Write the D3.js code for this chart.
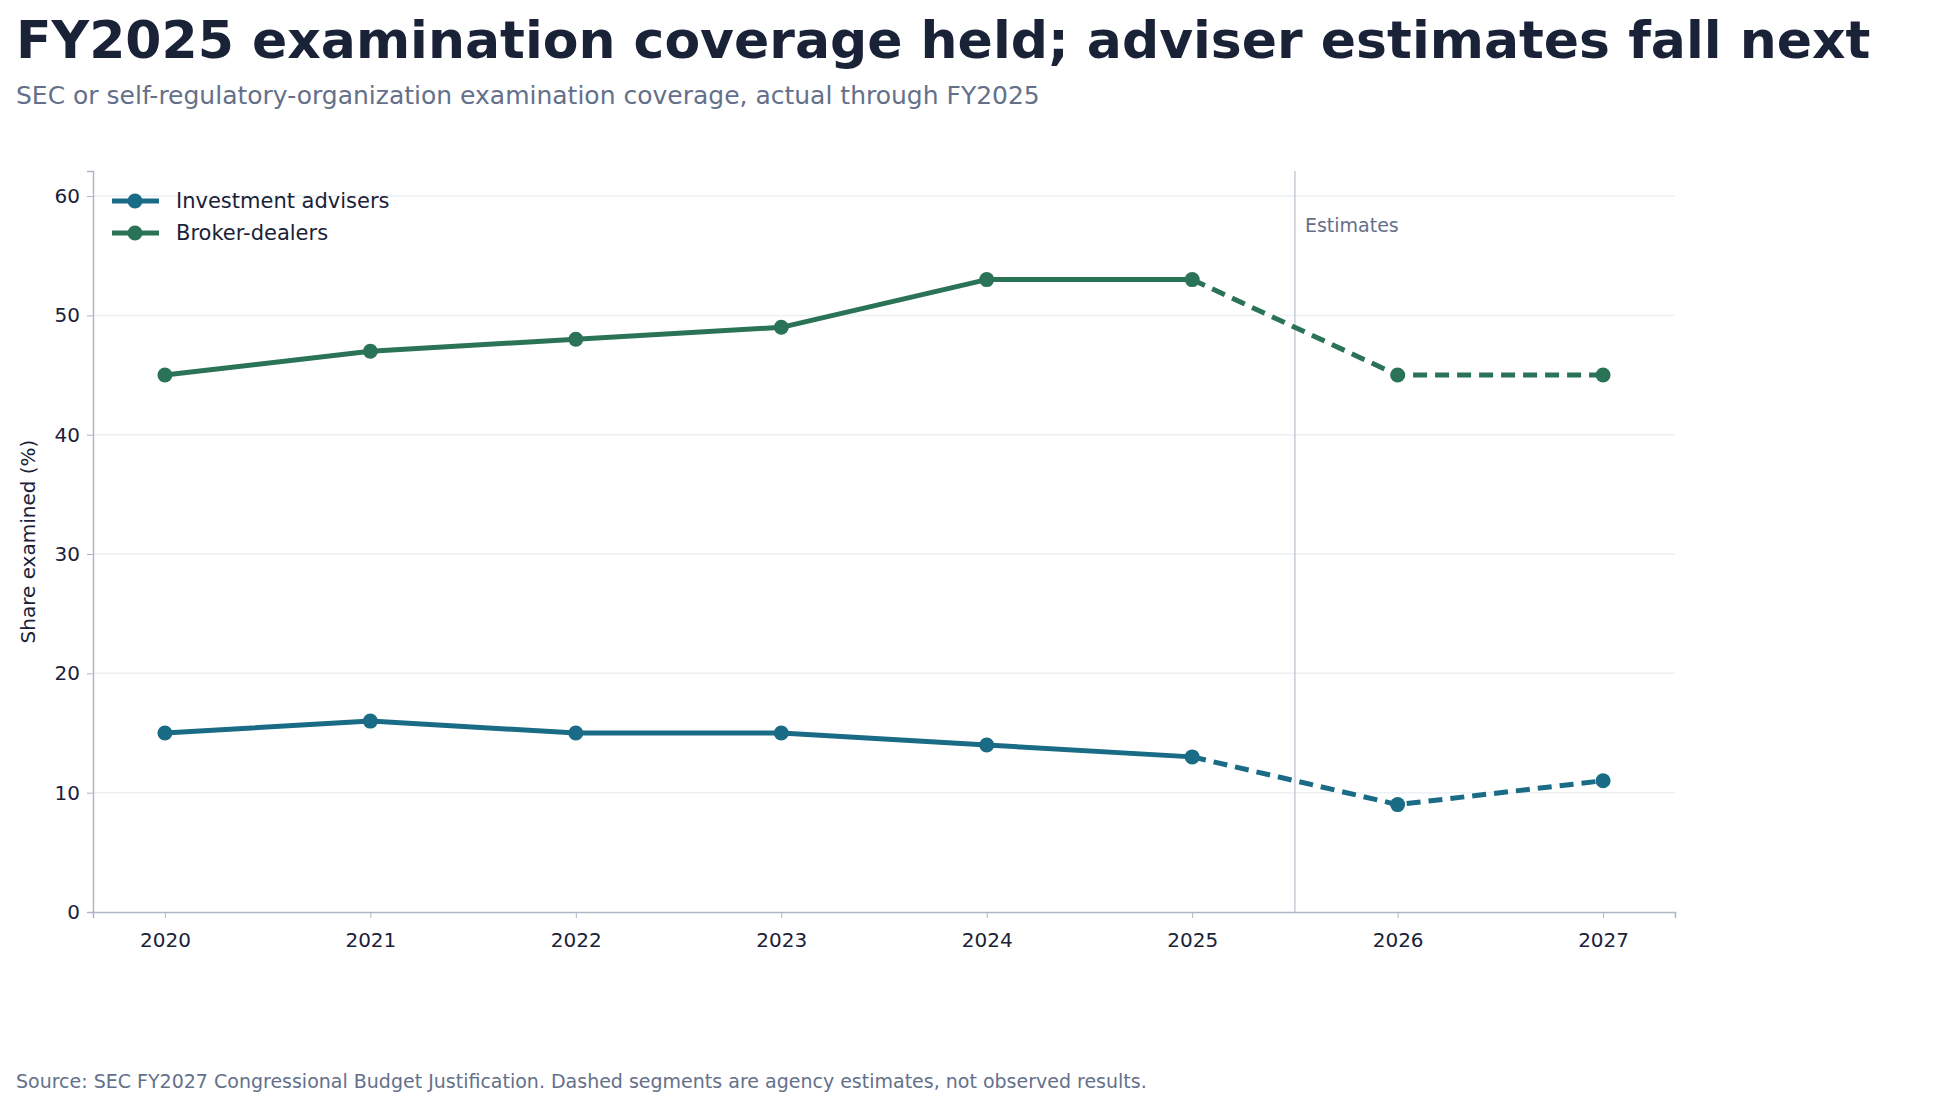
<!doctype html>
<html lang="en">
<head>
<meta charset="utf-8">
<title>SEC examination coverage</title>
<style>
  body { margin: 0; background: #fff; font-family: "DejaVu Sans", sans-serif; }
</style>
</head>
<body>
<svg id="chart" width="1936" height="1103"></svg>
<script src="https://cdn.jsdelivr.net/npm/d3@7"></script>
<script>
var years = [2020, 2021, 2022, 2023, 2024, 2025, 2026, 2027];
var advisers = [15, 16, 15, 15, 14, 13, 9, 11];
var brokers = [45, 47, 48, 49, 53, 53, 45, 45];
var yTicks = [0, 10, 20, 30, 40, 50, 60];
var lastActual = 2025;

var svg = d3.select("#chart");
var m = { left: 93, right: 1675, top: 171, bottom: 912 };

var x = d3.scaleLinear().domain([2019.65, 2027.35]).range([m.left, m.right]);
var y = d3.scaleLinear().domain([0, 62.1]).range([m.bottom, m.top]);

svg.append("text").attr("x", 16).attr("y", 58)
  .attr("font-size", 52).attr("font-weight", "bold").attr("fill", "#1a2238")
  .text("FY2025 examination coverage held; adviser estimates fall next");
svg.append("text").attr("x", 16).attr("y", 104)
  .attr("font-size", 25).attr("fill", "#64708a")
  .text("SEC or self-regulatory-organization examination coverage, actual through FY2025");

// grid
svg.append("g").selectAll("line").data(yTicks.slice(1)).join("line")
  .attr("x1", m.left).attr("x2", m.right)
  .attr("y1", function(d) { return y(d); }).attr("y2", function(d) { return y(d); })
  .attr("stroke", "#edf0f4").attr("stroke-width", 1.5);

// axes
var yAxis = svg.append("g").attr("transform", "translate(" + m.left + ",0)")
  .call(d3.axisLeft(y).tickValues(yTicks).tickSize(6));
var xAxis = svg.append("g").attr("transform", "translate(0," + m.bottom + ")")
  .call(d3.axisBottom(x).tickValues(years).tickFormat(d3.format("d")).tickSize(6));
[yAxis, xAxis].forEach(function(a) {
  a.select(".domain").attr("stroke", "#aeb6c6").attr("stroke-width", 1.5);
  a.selectAll(".tick line").attr("stroke", "#aeb6c6");
  a.selectAll("text").attr("font-size", 20).attr("fill", "#1a2238")
    .attr("font-family", "DejaVu Sans, sans-serif");
});
xAxis.selectAll("text").attr("dy", "1.3em");
yAxis.selectAll("text").attr("dx", "-0.2em");

svg.append("text")
  .attr("transform", "translate(35," + ((m.top + m.bottom) / 2) + ") rotate(-90)")
  .attr("text-anchor", "middle").attr("font-size", 20).attr("fill", "#1a2238")
  .text("Share examined (%)");

// estimates divider
svg.append("line").attr("x1", x(lastActual + 0.5)).attr("x2", x(lastActual + 0.5))
  .attr("y1", m.top).attr("y2", m.bottom).attr("stroke", "#c5cbd6").attr("stroke-width", 1.5);
svg.append("text").attr("x", x(lastActual + 0.5) + 10).attr("y", 232)
  .attr("font-size", 19).attr("fill", "#64708a").text("Estimates");

var series = [
  { name: "Investment advisers", values: advisers, color: "#1a6b85" },
  { name: "Broker-dealers", values: brokers, color: "#2b7356" }
];
var line = d3.line().x(function(d) { return x(d.year); }).y(function(d) { return y(d.v); });

series.forEach(function(s) {
  var pts = years.map(function(yr, i) { return { year: yr, v: s.values[i] }; });
  var actual = pts.filter(function(d) { return d.year <= lastActual; });
  var est = pts.filter(function(d) { return d.year >= lastActual; });
  svg.append("path").datum(actual).attr("d", line).attr("fill", "none")
    .attr("stroke", s.color).attr("stroke-width", 5).attr("stroke-linejoin", "round");
  svg.append("path").datum(est).attr("d", line).attr("fill", "none")
    .attr("stroke", s.color).attr("stroke-width", 5).attr("stroke-dasharray", "14,8");
  svg.append("g").selectAll("circle").data(pts).join("circle")
    .attr("cx", function(d) { return x(d.year); }).attr("cy", function(d) { return y(d.v); })
    .attr("r", 7.5).attr("fill", s.color);
});

// legend
var leg = svg.append("g");
series.forEach(function(s, i) {
  var ly = 201 + i * 32;
  leg.append("line").attr("x1", 112).attr("x2", 159).attr("y1", ly).attr("y2", ly)
    .attr("stroke", s.color).attr("stroke-width", 5);
  leg.append("circle").attr("cx", 135).attr("cy", ly).attr("r", 7.5).attr("fill", s.color);
  leg.append("text").attr("x", 176).attr("y", ly + 7).attr("font-size", 21)
    .attr("fill", "#1a2238").text(s.name);
});

svg.append("text").attr("x", 16).attr("y", 1088)
  .attr("font-size", 19).attr("fill", "#64708a")
  .text("Source: SEC FY2027 Congressional Budget Justification. Dashed segments are agency estimates, not observed results.");
</script>
</body>
</html>
